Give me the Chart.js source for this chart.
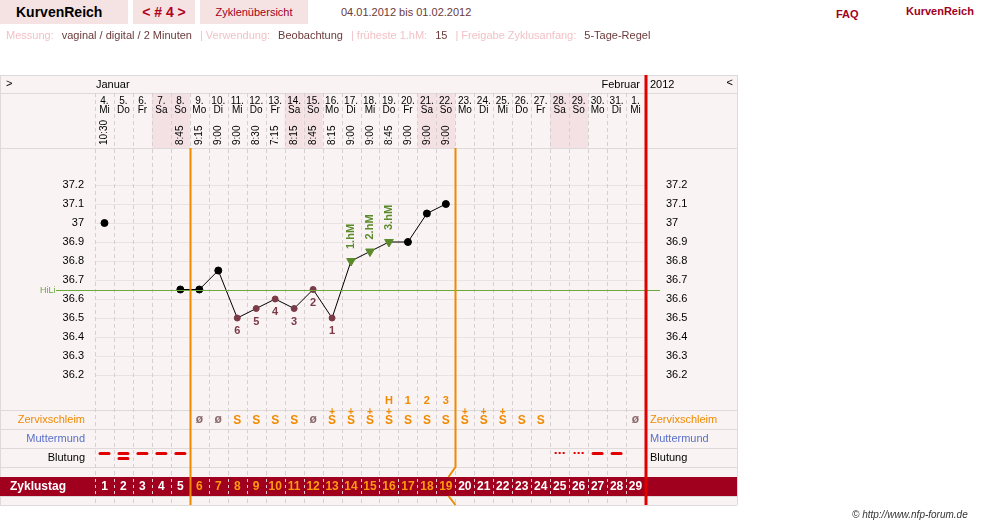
<!DOCTYPE html>
<html><head><meta charset="utf-8">
<script src="https://cdn.jsdelivr.net/npm/chart.js@4.4.1/dist/chart.umd.min.js"></script>
<style>
body{margin:0;width:981px;height:525px;overflow:hidden;background:#fff;font-family:"Liberation Sans",Arial,sans-serif;position:relative}
canvas{position:absolute;left:0;top:0}
.bar{position:absolute;top:0;height:24px;background:#f5e3e3;font-size:12px;line-height:24px}
.info{position:absolute;top:29px;left:6px;font-size:11px;color:#f2c2c6;white-space:nowrap}
.info b{font-weight:normal;color:#6b3a3a;margin:0 8px}
</style></head><body>
<canvas id="c" width="981" height="525"></canvas>
<div class="bar" style="left:0;width:128px;font-size:14px;font-weight:bold;padding-left:16px;box-sizing:border-box">KurvenReich</div>
<div class="bar" style="left:133px;width:62px;color:#b0001e;font-weight:bold;font-size:14px;text-align:center">&lt; # 4 &gt;</div>
<div class="bar" style="left:200px;width:108px;color:#a0001e;font-size:11px;text-align:center">Zyklenübersicht</div>
<div class="bar" style="left:313px;width:668px;background:#fff;color:#6b3a3a;font-size:11px;padding-left:28px;box-sizing:border-box">04.01.2012 bis 01.02.2012</div>
<div style="position:absolute;top:8px;left:836px;font-size:11px;color:#a0001e;font-weight:bold">FAQ</div>
<div style="position:absolute;top:5px;left:906px;font-size:11px;color:#a0001e;font-weight:bold">KurvenReich</div>
<div class="info">Messung:<b>vaginal / digital / 2 Minuten</b>| Verwendung:<b>Beobachtung</b>| früheste 1.hM:<b>15</b>| Freigabe Zyklusanfang:<b>5-Tage-Regel</b></div>
<div style="position:absolute;top:509px;left:852px;font-size:10px;color:#333;font-style:italic">© http://www.nfp-forum.de</div>
<script>
const days=['4.','5.','6.','7.','8.','9.','10.','11.','12.','13.','14.','15.','16.','17.','18.','19.','20.','21.','22.','23.','24.','25.','26.','27.','28.','29.','30.','31.','1.'];
const weekdays=['Mi','Do','Fr','Sa','So','Mo','Di','Mi','Do','Fr','Sa','So','Mo','Di','Mi','Do','Fr','Sa','So','Mo','Di','Mi','Do','Fr','Sa','So','Mo','Di','Mi'];
const times=['10:30','','','','8:45','9:15','9:00','9:00','8:30','7:15','8:15','8:45','8:15','9:00','9:00','8:45','9:00','9:00','9:00','','','','','','','','','',''];
const cycleDays=[1,2,3,4,5,6,7,8,9,10,11,12,13,14,15,16,17,18,19,20,21,22,23,24,25,26,27,28,29];
const temps=[37.0,null,null,null,36.65,36.65,36.75,36.5,36.55,36.6,36.55,36.65,36.5,36.8,36.85,36.9,36.9,37.05,37.1,null,null,null,null,null,null,null,null,null,null];
const lowLabels=['','','','','','','','6','5','4','3','2','1','','','','','','','','','','','','','','','',''];
const hmLabels=['','','','','','','','','','','','','','1.hM','2.hM','3.hM','','','','','','','','','','','','',''];
const peakLabels=['','','','','','','','','','','','','','','','H','1','2','3','','','','','','','','','',''];
const mucus=['','','','','','Ø','Ø','S','S','S','S','Ø','S+','S+','S+','S+','S','S','S','S+','S+','S+','S','S','','','','','Ø'];
const bleeding=['d','dd','d','d','d','','','','','','','','','','','','','','','','','','','','p','p','d','d',''];
const yTicks=[36.2,36.3,36.4,36.5,36.6,36.7,36.8,36.9,37,37.1,37.2];
const coverLine=36.65;

const ptColor=temps.map((t,i)=>hmLabels[i]?'#5a8a2a':(lowLabels[i]?'#7a3a46':'#000'));
const ptStyle=temps.map((t,i)=>hmLabels[i]?'triangle':'circle');
const ptRot=temps.map((t,i)=>hmLabels[i]?180:0);
const ptRad=temps.map((t,i)=>hmLabels[i]?5:(lowLabels[i]?3:3.5));
const F='"Liberation Sans",Arial,sans-serif';

const deco={id:'deco',
beforeDraw(ch){
 const c=ch.ctx,xs=ch.scales.x,ys=ch.scales.y;
 const w=xs.getPixelForValue(1)-xs.getPixelForValue(0);
 const L=xs.getPixelForValue(0)-w/2,R=xs.getPixelForValue(28)+w/2;
 c.save();
 c.fillStyle='#f9f3f3';c.fillRect(0,75,737,430);
 // weekend shading header
 c.fillStyle='#f3e1e4';
 weekdays.forEach((d,i)=>{if(d==='Sa'||d==='So'){const x=xs.getPixelForValue(i);c.fillRect(x-w/2,93,w,55);}});
 // horizontal row lines
 c.strokeStyle='#dedada';c.lineWidth=1;
 [75,93,148,410,429,448,467,496,505].forEach(y=>{c.beginPath();c.moveTo(0,y+.5);c.lineTo(737,y+.5);c.stroke();});
 c.beginPath();c.moveTo(737.5,75);c.lineTo(737.5,505);c.stroke();
 c.beginPath();c.moveTo(0.5,75);c.lineTo(0.5,505);c.stroke();
 // temp grid
 c.strokeStyle='#ebe3e3';
 yTicks.forEach(v=>{const y=Math.round(ys.getPixelForValue(v))+.5;c.beginPath();c.moveTo(L,y);c.lineTo(R,y);c.stroke();});
 // dashed column lines
 c.strokeStyle='#d6d0d0';c.setLineDash([4,3]);
 for(let i=0;i<=29;i++){const x=Math.round(L+i*w)+.5;c.beginPath();c.moveTo(x,93);c.lineTo(x,505);c.stroke();}
 c.setLineDash([]);
 // zyklustag bar
 c.fillStyle='#a0001e';c.fillRect(0,477,737,19);
 c.strokeStyle='#e8c8cc';c.setLineDash([3,3]);
 for(let i=0;i<=29;i++){const x=Math.round(L+i*w)+.5;c.beginPath();c.moveTo(x,479);c.lineTo(x,495);c.stroke();}
 c.setLineDash([]);
 c.restore();
},
afterDraw(ch){
 const c=ch.ctx,xs=ch.scales.x,ys=ch.scales.y;
 const w=xs.getPixelForValue(1)-xs.getPixelForValue(0);
 const L=xs.getPixelForValue(0)-w/2,R=xs.getPixelForValue(28)+w/2;
 c.save();
 c.textBaseline='middle';
 // header texts
 c.font='11px '+F;c.fillStyle='#000';c.textAlign='left';
 c.fillText('>',6,84);c.fillText('Januar',96,85);c.fillText('2012',650,85);
 c.textAlign='right';c.fillText('Februar',640,85);c.fillText('<',733,83);
 c.font='10px '+F;c.textAlign='center';
 days.forEach((d,i)=>{const x=xs.getPixelForValue(i);c.fillText(d,x,101);c.fillText(weekdays[i],x,110);
  if(times[i]){c.save();c.translate(x,145);c.rotate(-Math.PI/2);c.textAlign='left';c.fillText(times[i],0,0);c.restore();}});
 // y labels
 c.font='11px '+F;
 yTicks.forEach(v=>{const y=ys.getPixelForValue(v);c.textAlign='right';c.fillText(String(v),84,y);c.textAlign='left';c.fillText(String(v),666,y);});
 // cover line
 const hy=Math.round(ys.getPixelForValue(coverLine))+.5;
 c.strokeStyle='#6aaa3a';c.lineWidth=1;c.beginPath();c.moveTo(56,hy);c.lineTo(660,hy);c.stroke();
 c.fillStyle='#6aaa3a';c.font='9px '+F;c.textAlign='left';c.fillText('HiLi',40,hy);
 // low & hm labels
 temps.forEach((t,i)=>{if(t==null)return;const x=xs.getPixelForValue(i),y=ys.getPixelForValue(t);
  if(lowLabels[i]){c.fillStyle='#7a3a46';c.font='bold 11px '+F;c.textAlign='center';c.fillText(lowLabels[i],x,y+13);}
  if(hmLabels[i]){c.fillStyle='#5a8a2a';c.font='bold 11px '+F;c.save();c.translate(x,y-12);c.rotate(-Math.PI/2);c.textAlign='left';c.fillText(hmLabels[i],0,0);c.restore();}
 });
 // peak labels
 c.fillStyle='#f08a00';c.font='bold 11px '+F;c.textAlign='center';
 peakLabels.forEach((p,i)=>{if(p)c.fillText(p,xs.getPixelForValue(i),401);});
 // mucus
 mucus.forEach((m,i)=>{if(!m)return;const x=xs.getPixelForValue(i);
  if(m==='Ø'){c.fillStyle='#8a6a6a';c.font='bold 12px '+F;c.fillText('ø',x,420);}
  else{c.fillStyle='#f08a00';c.font='bold 12px '+F;c.fillText('S',x,421);if(m==='S+'){c.font='bold 10px '+F;c.fillText('+',x,412);}}});
 // bleeding
 c.fillStyle='#e00000';
 bleeding.forEach((b,i)=>{const x=xs.getPixelForValue(i);
  if(b==='d'){c.beginPath();c.roundRect(x-6,452,12,3,1.5);c.fill();}
  if(b==='dd'){c.beginPath();c.roundRect(x-6,452,12,3,1.5);c.roundRect(x-6,457,12,3,1.5);c.fill();}
  if(b==='p'){[-4,0,4].forEach(d=>{c.fillRect(x+d-1,452,2,2);});}});
 // row labels
 c.font='11px '+F;
 c.textAlign='right';c.fillStyle='#f08a00';c.fillText('Zervixschleim',85,420);
 c.fillStyle='#5a70c8';c.fillText('Muttermund',85,439);
 c.fillStyle='#000';c.fillText('Blutung',85,458);
 c.textAlign='left';c.fillStyle='#f08a00';c.fillText('Zervixschleim',650,420);
 c.fillStyle='#5a70c8';c.fillText('Muttermund',650,439);
 c.fillStyle='#000';c.fillText('Blutung',650,458);
 // cycle days
 c.font='bold 12px '+F;c.fillStyle='#fff';c.textAlign='left';c.fillText('Zyklustag',10,487);
 c.textAlign='center';
 cycleDays.forEach((d,i)=>{c.fillStyle=(i>=5&&i<=18)?'#ff9a10':'#fff';c.fillText(String(d),xs.getPixelForValue(i),487);});
 // orange lines
 const x1=Math.round(L+5*w)+.5,x2=Math.round(L+19*w)+.5;
 c.strokeStyle='#f08a00';c.lineWidth=2;
 c.beginPath();c.moveTo(x1,148);c.lineTo(x1,505);c.stroke();
 c.beginPath();c.moveTo(x2,148);c.lineTo(x2,467);c.lineTo(x2-7,477);c.moveTo(x2-7,496);c.lineTo(x2,505);c.stroke();
 // red line
 c.strokeStyle='#e00000';c.lineWidth=3;c.beginPath();c.moveTo(R+1,75);c.lineTo(R+1,505);c.stroke();
 c.restore();
}};

new Chart(document.getElementById('c'),{
 type:'line',
 data:{labels:days,datasets:[{data:temps,borderColor:'#000',borderWidth:1,spanGaps:false,
  pointBackgroundColor:ptColor,pointBorderColor:ptColor,pointStyle:ptStyle,pointRotation:ptRot,pointRadius:ptRad,tension:0}]},
 options:{responsive:false,animation:false,devicePixelRatio:1,
  layout:{padding:{left:95,right:336,top:147,bottom:112}},
  plugins:{legend:{display:false},tooltip:{enabled:false}},
  scales:{x:{display:false,offset:true},y:{display:false,min:36.0,max:37.4}}},
 plugins:[deco]
});
</script>
</body></html>
